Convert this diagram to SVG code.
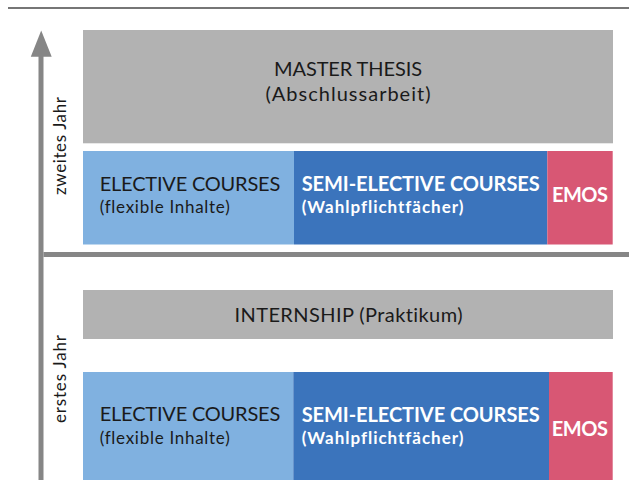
<svg xmlns="http://www.w3.org/2000/svg" width="629" height="480" viewBox="0 0 629 480">
<style>
text{font-family:Lato,"Open Sans",sans-serif;font-variant-ligatures:none;font-feature-settings:"liga" 0,"clig" 0;}
.gray{fill:#b2b2b2;}
.lb{fill:#80b1e0;}
.db{fill:#3b74bc;}
.pk{fill:#d85774;}
.t{font-size:20px;fill:#1a1a1a;}
.s{font-size:17px;}
.tw{font-size:20px;font-weight:700;fill:#ffffff;}
.ax{font-size:17px;fill:#1a1a1a;}
.axis{fill:#868686;}
</style>
<rect x="8" y="7.2" width="621" height="1.6" fill="#555555"/>
<g id="connectors">
<rect class="axis" x="38.5" y="50" width="5" height="430"/>
<polygon class="axis" points="41.2,30.5 51.7,56.7 30.8,56.7"/>
<rect class="axis" x="43.5" y="252" width="585.5" height="5"/>
</g>
<g id="axis-label-2">
<text class="ax" transform="translate(66,146) rotate(-90)" text-anchor="middle" textLength="98">zweites Jahr</text>
</g>
<g id="axis-label-1">
<text class="ax" transform="translate(66,379) rotate(-90)" text-anchor="middle" textLength="88">erstes Jahr</text>
</g>
<g id="master-thesis">
<rect class="gray" x="83" y="30" width="530" height="113.3"/>
<text class="t" text-anchor="middle"><tspan x="348" y="76" textLength="148">MASTER THESIS</tspan><tspan x="348" y="101" textLength="165">(Abschlussarbeit)</tspan></text>
</g>
<g id="elective-2">
<rect class="lb" x="83" y="151" width="211" height="93.5"/>
<text class="t"><tspan x="99.7" y="191" textLength="180.6">ELECTIVE COURSES</tspan><tspan class="s" x="99.7" y="212.7" textLength="130">(flexible Inhalte)</tspan></text>
</g>
<g id="semi-elective-2">
<rect class="db" x="294" y="151" width="253.3" height="93.5"/>
<text class="tw"><tspan x="301.7" y="191.3" textLength="238">SEMI-ELECTIVE COURSES</tspan><tspan class="s" x="301.7" y="213.3" textLength="161.6">(Wahlpflichtfächer)</tspan></text>
</g>
<g id="emos-2">
<rect class="pk" x="547.3" y="151" width="65.4" height="93.5"/>
<text class="tw" x="552" y="201.7" textLength="56">EMOS</text>
</g>
<g id="internship">
<rect class="gray" x="83" y="290" width="530" height="49"/>
<text class="t" x="348.5" y="321.7" text-anchor="middle" textLength="228">INTERNSHIP (Praktikum)</text>
</g>
<g id="elective-1">
<rect class="lb" x="83" y="372" width="210.3" height="108"/>
<text class="t"><tspan x="99.7" y="421" textLength="180.6">ELECTIVE COURSES</tspan><tspan class="s" x="99.7" y="443.5" textLength="130">(flexible Inhalte)</tspan></text>
</g>
<g id="semi-elective-1">
<rect class="db" x="293.3" y="372" width="255.7" height="108"/>
<text class="tw"><tspan x="301.7" y="421.5" textLength="238">SEMI-ELECTIVE COURSES</tspan><tspan class="s" x="301.7" y="443.5" textLength="161.6">(Wahlpflichtfächer)</tspan></text>
</g>
<g id="emos-1">
<rect class="pk" x="549" y="372" width="63.7" height="108"/>
<text class="tw" x="551.7" y="436" textLength="56.3">EMOS</text>
</g>
</svg>
